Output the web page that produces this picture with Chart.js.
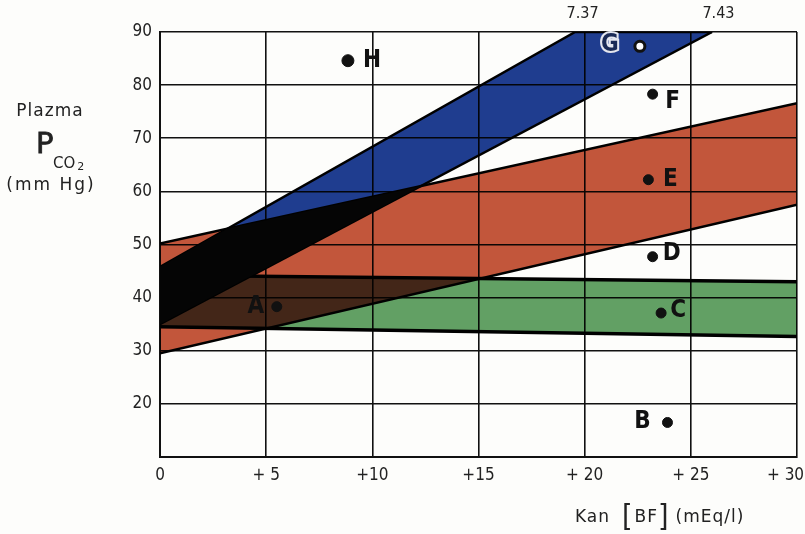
<!DOCTYPE html>
<html>
<head>
<meta charset="utf-8">
<script src="https://cdn.jsdelivr.net/npm/chart.js@4/dist/chart.umd.min.js"></script>
<style>
  body { margin: 0; background: #fdfdfb; }
  #wrap { width: 805px; height: 534px; }
</style>
</head>
<body>
<div id="wrap"><canvas id="pco2Chart"></canvas></div>
<script>
// Band edges: x = base excess (mEq/l), y = PCO2 (mm Hg)
const bandX = [0, 30];
const greenLow = [34.5, 32.7];
const greenHigh = [44.2, 43.0];
const redLow = [29.5, 57.5];
const redHigh = [50.2, 76.6];
const blueLowX = [0, 26];
const blueLow = [35, 90];
const blueHighX = [0, 19.55, 26];
const blueHigh = [45.8, 90, 90];

// pH isopleth labels along the top edge
const phLabels = ["7.37", "7.43"];
const phAt = [19.9, 26.3];

// Case points
const caseNames = ["A", "B", "C", "D", "E", "F", "G", "H"];
const caseBF = [5.5, 23.9, 23.6, 23.2, 23.0, 23.2, 22.6, 8.85];
const casePCO2 = [38.3, 16.5, 37.1, 47.7, 62.2, 78.3, 87.3, 84.6];

const xTicks = [0, 5, 10, 15, 20, 25, 30];
const xTickLabels = ["0", "+ 5", "+10", "+15", "+ 20", "+ 25", "+ 30"];
const yTicks = [20, 30, 40, 50, 60, 70, 80, 90];

const FONT = '"DejaVu Sans", "Liberation Sans", sans-serif';
const TICK_FONT = '"DejaVu Sans Condensed", "DejaVu Sans", sans-serif';

// dataset indexes of each band: [lower edge, upper edge]
const BLUE = [1, 2], RED = [3, 4], GREEN = [5, 6];

function pts(xs, ys) {
  return xs.map((x, i) => ({ x, y: ys[i] }));
}

function edge(xs, ys, fill, color, width) {
  return {
    data: pts(xs, ys),
    borderColor: "#000",
    borderWidth: width || 2.5,
    pointRadius: 0,
    fill: fill,
    backgroundColor: color,
    tension: 0
  };
}

function bandPath(chart, band) {
  const ctx = chart.ctx;
  const lo = chart.getDatasetMeta(band[0]).data;
  const hi = chart.getDatasetMeta(band[1]).data;
  ctx.beginPath();
  hi.forEach((p, i) => (i ? ctx.lineTo(p.x, p.y) : ctx.moveTo(p.x, p.y)));
  for (let i = lo.length - 1; i >= 0; i--) ctx.lineTo(lo[i].x, lo[i].y);
  ctx.closePath();
}

function clipArea(chart) {
  const a = chart.chartArea;
  chart.ctx.beginPath();
  chart.ctx.rect(a.left, a.top, a.right - a.left, a.bottom - a.top);
  chart.ctx.clip();
}

// fills are multiplied so overlapping bands darken like printed inks
const inkPlugin = {
  id: "ink",
  beforeDatasetsDraw(chart) {
    chart.ctx.globalCompositeOperation = "multiply";
  },
  beforeDatasetDraw(chart, args) {
    if (args.index !== 0) return;
    const ctx = chart.ctx;
    // green over red: deepen to brown
    ctx.save();
    clipArea(chart);
    ctx.globalCompositeOperation = "multiply";
    bandPath(chart, GREEN);
    ctx.clip();
    bandPath(chart, RED);
    ctx.fillStyle = "#e2b4ff";
    ctx.fill();
    ctx.restore();
    // blue over red prints black
    ctx.save();
    clipArea(chart);
    ctx.globalCompositeOperation = "source-over";
    bandPath(chart, BLUE);
    ctx.clip();
    bandPath(chart, RED);
    ctx.fillStyle = "#050505";
    ctx.fill();
    ctx.restore();
    ctx.globalCompositeOperation = "source-over";
  },
  afterDatasetsDraw(chart) {
    chart.ctx.globalCompositeOperation = "source-over";
  }
};

const labelOffset = {
  A: [-21, 0], B: [-25, -1], C: [17, -2], D: [19, -3],
  E: [22, 0], F: [20, 8], G: [-30, -2], H: [24, 0]
};

const textPlugin = {
  id: "texts",
  afterDraw(chart) {
    const ctx = chart.ctx;
    const xs = chart.scales.x, ys = chart.scales.y;
    ctx.save();
    ctx.globalCompositeOperation = "source-over";

    // letters beside the case points
    ctx.font = "bold 24px " + TICK_FONT;
    ctx.textAlign = "center";
    ctx.textBaseline = "middle";
    caseNames.forEach((n, i) => {
      const px = xs.getPixelForValue(caseBF[i]) + labelOffset[n][0];
      const py = ys.getPixelForValue(casePCO2[i]) + labelOffset[n][1];
      if (n === "G") {
        ctx.lineWidth = 4;
        ctx.strokeStyle = "#e4e6ee";
        ctx.strokeText(n, px, py);
        ctx.fillStyle = "#1a2a55";
        ctx.fillText(n, px, py);
      } else {
        ctx.fillStyle = "#111";
        ctx.fillText(n, px, py);
      }
    });

    // pH values above the plot
    ctx.font = "16px " + TICK_FONT;
    ctx.fillStyle = "#222";
    phLabels.forEach((t, i) => {
      ctx.fillText(t, xs.getPixelForValue(phAt[i]), 14);
    });

    // y axis title
    ctx.font = "17px " + FONT;
    ctx.letterSpacing = "1px";
    ctx.fillText("Plazma", 50, 112);
    ctx.letterSpacing = "2px";
    ctx.fillText("(mm Hg)", 51, 186);
    ctx.letterSpacing = "0px";
    ctx.textAlign = "left";
    ctx.textBaseline = "alphabetic";
    ctx.font = "29px " + FONT;
    ctx.lineWidth = 0.8;
    ctx.strokeStyle = "#222";
    ctx.fillText("P", 36, 153);
    ctx.strokeText("P", 36, 153);
    ctx.font = "15px " + FONT;
    ctx.fillText("CO", 53, 168);
    const coW = ctx.measureText("CO").width;
    ctx.font = "11px " + FONT;
    ctx.fillText("2", 53 + coW + 2, 170);

    // x axis title
    let x = 575;
    const base = 522;
    ctx.letterSpacing = "1px";
    const part = (t, f, gap, dy) => {
      ctx.font = f;
      ctx.fillText(t, x, base + (dy || 0));
      x += ctx.measureText(t).width + gap;
    };
    part("Kan", "17px " + FONT, 12);
    part("[", "30px " + TICK_FONT, 1, 4);
    part("BF", "17px " + FONT, 0);
    part("]", "30px " + TICK_FONT, 6, 4);
    part("(mEq/l)", "17px " + FONT, 0);

    ctx.restore();
  }
};

new Chart(document.getElementById("pco2Chart"), {
  type: "line",
  data: {
    datasets: [
      {
        type: "scatter",
        data: pts(caseBF, casePCO2),
        showLine: false,
        pointRadius: c => (caseNames[c.dataIndex] === "H" ? 6 : 5),
        pointBackgroundColor: c => (caseNames[c.dataIndex] === "G" ? "#fff" : "#111"),
        pointBorderColor: "#111",
        pointBorderWidth: c => (caseNames[c.dataIndex] === "G" ? 3 : 1)
      },
      edge(blueLowX, blueLow, false, "transparent"),
      edge(blueHighX, blueHigh, "-1", "#1f3d8f"),
      edge(bandX, redLow, false, "transparent"),
      edge(bandX, redHigh, "-1", "#c2563b"),
      edge(bandX, greenLow, false, "transparent", 3.5),
      edge(bandX, greenHigh, "-1", "#62a064", 3.5)
    ]
  },
  options: {
    responsive: true,
    maintainAspectRatio: false,
    animation: false,
    layout: { padding: { top: 32, right: 8, left: 0, bottom: 0 } },
    plugins: {
      legend: { display: false },
      tooltip: { enabled: false }
    },
    scales: {
      x: {
        type: "linear",
        min: 0,
        max: 30,
        afterFit: s => { s.height = 77; s.paddingLeft = 0; s.paddingRight = 0; },
        afterBuildTicks: s => { s.ticks = xTicks.map(v => ({ value: v })); },
        ticks: {
          padding: 8,
          color: "#222",
          font: { family: TICK_FONT, size: 17 },
          // last label sits inside the frame
          callback: (v, i) => xTickLabels[i] + (i === xTicks.length - 1 ? "\u2002\u2002\u2002" : "")
        },
        grid: { color: "#111", lineWidth: 1.6, drawTicks: false },
        border: { color: "#111", width: 2 }
      },
      y: {
        min: 10,
        max: 90,
        afterFit: s => { s.width = 160; s.paddingTop = 0; s.paddingBottom = 0; },
        afterBuildTicks: s => { s.ticks = [10].concat(yTicks).map(v => ({ value: v })); },
        ticks: {
          padding: 8,
          color: "#222",
          font: { family: TICK_FONT, size: 17 },
          callback: v => (yTicks.includes(v) ? String(v) : "")
        },
        grid: { color: "#111", lineWidth: 1.6, drawTicks: false },
        border: { color: "#111", width: 2 }
      }
    }
  },
  plugins: [inkPlugin, textPlugin]
});
</script>
</body>
</html>
